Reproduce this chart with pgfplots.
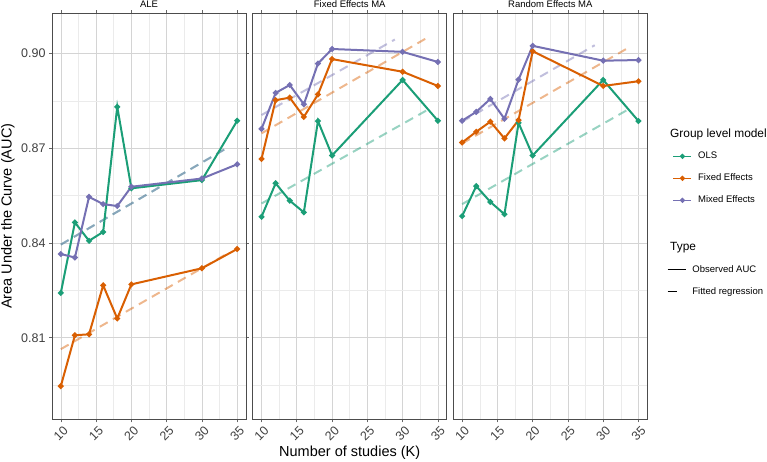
\documentclass[border=0pt]{standalone}
\usepackage{pgfplots}
\pgfplotsset{compat=1.18}
\usepackage{fontspec}
\setmainfont{Liberation Sans}

\definecolor{ols}{HTML}{1B9E77}
\definecolor{fe}{HTML}{D95F02}
\definecolor{me}{HTML}{7570B3}
\definecolor{majgrid}{HTML}{D4D4D4}
\definecolor{mingrid}{HTML}{EBEBEB}

\pgfplotsset{
  panel/.style={
    scale only axis, width=194pt, height=406pt, anchor=south west,
    xmin=8.75, xmax=36.25, ymin=0.7842, ymax=0.9127,
    xtick={10,15,20,25,30,35},
    minor xtick={12.5,17.5,22.5,27.5,32.5},
    ytick={0.81,0.84,0.87,0.90},
    minor ytick={0.795,0.825,0.855,0.885},
    grid=both,
    major grid style={majgrid, line width=0.6pt},
    minor grid style={mingrid, line width=0.5pt},
    minor tick length=0pt,
    tick align=outside, major tick length=3pt,
    tick style={black!60, line width=0.6pt},
    axis line style={black!70, line width=0.8pt},
    xticklabel style={font=\fontsize{12.5}{13}\selectfont, text=black!75,
      yshift=-11.5pt, rotate=45, anchor=center},
    yticklabel style={font=\fontsize{12.5}{13}\selectfont, text=black!75},
    /pgf/number format/assume math mode=true,
    every axis title/.style={at={(0.5,1)}, anchor=base, yshift=6pt,
      font=\fontsize{9.5}{10}\selectfont},
    clip=false,
  },
  obs/.style={line width=2pt, mark=*, mark size=1.8pt, mark options={solid}},
  fit/.style={line width=2pt, opacity=0.45, dash pattern=on 9pt off 6pt, forget plot},
  leg/.style={
    draw=none, fill=none, inner sep=0pt, outer sep=0pt,
    font=\fontsize{9.5}{10}\selectfont, row sep=13pt, column sep=6pt,
    nodes={inner sep=0pt, text height=7pt, text depth=2pt}},
}

\begin{document}
\begin{tikzpicture}
\path[use as bounding box] (0,0) rectangle (767pt,462pt);

% ===== ALE =====
\begin{axis}[panel, at={(52pt,42.7pt)}, title={ALE},
  yticklabels={0.81,0.84,0.87,0.90},
  ylabel={Area Under the Curve (AUC)},
  ylabel style={at={(axis description cs:-0.228,0.5)}, anchor=center,
    font=\fontsize{14.5}{15}\selectfont}]
\addplot[fit, ols] coordinates {(10,0.8395) (33.8,0.8704)};
\addplot[fit, me] coordinates {(10,0.8395) (33.8,0.8704)};
\addplot[fit, fe] coordinates {(10,0.8064) (33.8,0.8369)};
\addplot[obs, ols] coordinates {(10,0.8242) (12,0.8465) (14,0.8407) (16,0.8435) (18,0.8831) (20,0.8573) (30,0.8599) (35,0.8787)};
\addplot[obs, fe] coordinates {(10,0.7947) (12,0.8108) (14,0.8111) (16,0.8266) (18,0.8161) (20,0.8269) (30,0.8320) (35,0.8381)};
\addplot[obs, me] coordinates {(10,0.8365) (12,0.8354) (14,0.8546) (16,0.8523) (18,0.8517) (20,0.8578) (30,0.8604) (35,0.8649)};
\end{axis}

% ===== Fixed Effects MA =====
\begin{axis}[panel, at={(252.7pt,42.7pt)}, title={Fixed Effects MA},
  yticklabels={}, ytick style={draw=none},
  xlabel={Number of studies (K)},
  xlabel style={at={(axis description cs:0.5,-0.083)}, anchor=center,
    font=\fontsize{14.5}{15}\selectfont}]
\addplot[fit, ols] coordinates {(10,0.8525) (33.9,0.8826)};
\addplot[fit, fe] coordinates {(10,0.8747) (33.9,0.9055)};
\addplot[fit, me] coordinates {(10,0.8805) (28.9,0.9044)};
\addplot[obs, ols] coordinates {(10,0.8483) (12,0.8589) (14,0.8534) (16,0.8497) (18,0.8786) (20,0.8677) (30,0.8916) (35,0.8787)};
\addplot[obs, fe] coordinates {(10,0.8666) (12,0.8852) (14,0.8860) (16,0.8799) (18,0.8870) (20,0.8982) (30,0.8942) (35,0.8897)};
\addplot[obs, me] coordinates {(10,0.8761) (12,0.8875) (14,0.8900) (16,0.8839) (18,0.8968) (20,0.9014) (30,0.9005) (35,0.8973)};
\end{axis}

% ===== Random Effects MA =====
\begin{axis}[panel, at={(453.3pt,42.7pt)}, title={Random Effects MA},
  yticklabels={}, ytick style={draw=none},
  legend style={leg, at={(axis description cs:1.131,0.5936)}, anchor=west},
  legend cell align=left,
  legend image code/.code={\draw[mark repeat=2, mark phase=2, #1, line width=1.4pt]
    plot coordinates {(0pt,0pt) (9pt,0pt) (18pt,0pt)};}]
\addplot[fit, ols] coordinates {(10,0.8523) (33.8,0.8826)};
\addplot[fit, fe] coordinates {(10,0.8715) (33.8,0.9021)};
\addplot[fit, me] coordinates {(10,0.8784) (28.8,0.9026)};
\addplot[obs, ols] coordinates {(10,0.8485) (12,0.8580) (14,0.8530) (16,0.8491) (18,0.8780) (20,0.8677) (30,0.8916) (35,0.8786)};
\addlegendentry{OLS}
\addplot[obs, fe] coordinates {(10,0.8718) (12,0.8752) (14,0.8784) (16,0.8731) (18,0.8789) (20,0.9007) (30,0.8897) (35,0.8912)};
\addlegendentry{Fixed Effects}
\addplot[obs, me] coordinates {(10,0.8787) (12,0.8815) (14,0.8856) (16,0.8793) (18,0.8917) (20,0.9024) (30,0.8977) (35,0.8979)};
\addlegendentry{Mixed Effects}
\end{axis}

% ===== Type legend (hidden axis) =====
\begin{axis}[hide axis, scale only axis, width=10pt, height=10pt,
  at={(672pt,181.3pt)}, anchor=center, xmin=0, xmax=1, ymin=0, ymax=1,
  legend style={leg, at={(0,0.5)}, anchor=west},
  legend cell align=left,
  legend image code/.code={\draw[#1] (0pt,0pt) -- (18pt,0pt);}]
\addlegendimage{black, line width=1.4pt}
\addlegendentry{Observed AUC}
\addlegendimage{black, line width=1.4pt, dash pattern=on 9.5pt off 9pt}
\addlegendentry{Fitted regression}
\end{axis}

\node[anchor=west, inner sep=0pt, font=\fontsize{11.9}{12}\selectfont] at (670pt,328pt) {Group level model};
\node[anchor=west, inner sep=0pt, font=\fontsize{11.9}{12}\selectfont] at (670pt,214.3pt) {Type};
\end{tikzpicture}
\end{document}
